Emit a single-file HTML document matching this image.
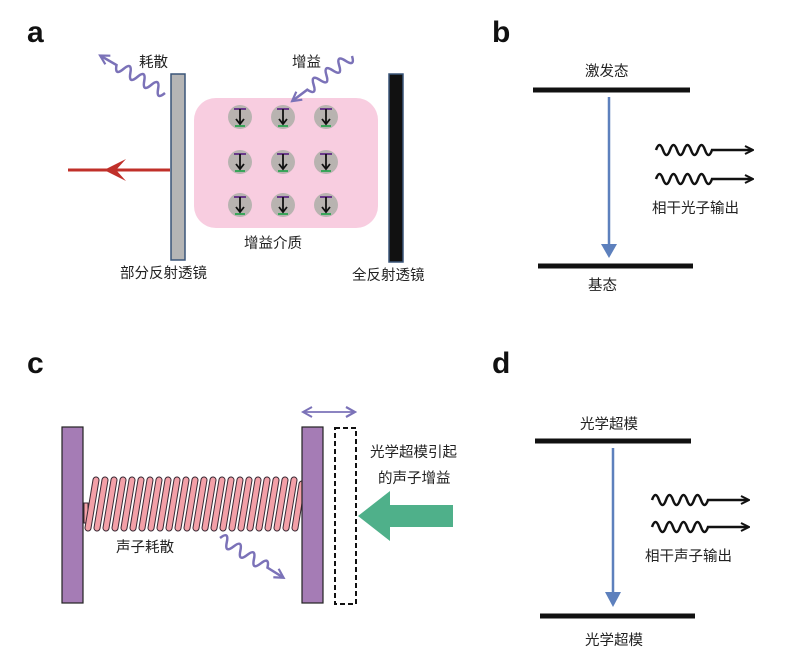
<!DOCTYPE html>
<html><head><meta charset="utf-8"><style>
body{margin:0;background:#fff}
svg{display:block}
text{font-family:"Liberation Sans","Noto Sans CJK SC",sans-serif;fill:#222}
.l{font-size:14.5px}
.h{font-size:30px;font-weight:bold;fill:#111}
</style></head><body>
<svg width="792" height="660" viewBox="0 0 792 660" xmlns="http://www.w3.org/2000/svg">
<defs>
<marker id="bk" markerWidth="10" markerHeight="10" refX="8" refY="5" orient="auto" markerUnits="userSpaceOnUse"><path d="M1,1 L9,5 L1,9" fill="none" stroke="#111" stroke-width="2"/></marker>
<marker id="pu" markerWidth="12" markerHeight="12" refX="9" refY="6" orient="auto" markerUnits="userSpaceOnUse"><path d="M1,1 L10,6 L1,11" fill="none" stroke="#7b72b8" stroke-width="2.2"/></marker>
<marker id="pu2" markerWidth="12" markerHeight="12" refX="3" refY="6" orient="auto" markerUnits="userSpaceOnUse"><path d="M11,1 L2,6 L11,11" fill="none" stroke="#7b72b8" stroke-width="2"/></marker>
<g id="circ">
<circle r="12" fill="#b8b3b0"/>
<line x1="-6" y1="-8" x2="6" y2="-8" stroke="#6a3a8a" stroke-width="2"/>
<line x1="-5" y1="9" x2="5" y2="9" stroke="#3aa55a" stroke-width="2"/>
<line x1="0" y1="-8" x2="0" y2="6" stroke="#111" stroke-width="1.8"/>
<path d="M-4,2 L0,7 L4,2" fill="none" stroke="#111" stroke-width="1.8"/>
</g>
<path id="wv" d="M0,0 q3.5,-10 7,0 t7,0 t7,0 t7,0 t7,0 t7,0 t7,0 t7,0 l40,0" fill="none"/>
<path id="pw" d="M0,0 q4,-11 8,0 t8,0 t8,0 t8,0 t8,0 t8,0 t8,0 l18,0" fill="none"/>
</defs>

<text class="h" x="27" y="42">a</text>
<text class="h" x="492" y="42">b</text>
<text class="h" x="27" y="373">c</text>
<text class="h" x="492" y="373">d</text>

<!-- panel a -->
<rect x="194" y="98" width="184" height="130" rx="22" fill="#f8cde0"/>
<rect x="171" y="74" width="14" height="186" fill="#b5b5b5" stroke="#3a5578" stroke-width="1.5"/>
<rect x="389" y="74" width="14" height="188" fill="#111" stroke="#3a5578" stroke-width="1.5"/>
<line x1="170" y1="170" x2="68" y2="170" stroke="#c0302a" stroke-width="3"/>
<path d="M126,159 L104,170 L126,181 L116,170 Z" fill="#c0302a"/>
<use href="#circ" x="240" y="117"/><use href="#circ" x="283" y="117"/><use href="#circ" x="326" y="117"/>
<use href="#circ" x="240" y="162"/><use href="#circ" x="283" y="162"/><use href="#circ" x="326" y="162"/>
<use href="#circ" x="240" y="205"/><use href="#circ" x="283" y="205"/><use href="#circ" x="326" y="205"/>
<use href="#pw" transform="translate(165,93) rotate(210)" stroke="#7b72b8" stroke-width="2.5" marker-end="url(#pu)"/>
<use href="#pw" transform="translate(352,56) rotate(143)" stroke="#7b72b8" stroke-width="2.5" marker-end="url(#pu)"/>
<text class="l" x="139" y="67">耗散</text>
<text class="l" x="292" y="67">增益</text>
<text class="l" x="244" y="248">增益介质</text>
<text class="l" x="120" y="278">部分反射透镜</text>
<text class="l" x="352" y="280">全反射透镜</text>

<!-- panel b -->
<line x1="533" y1="90" x2="690" y2="90" stroke="#111" stroke-width="5"/>
<line x1="538" y1="266" x2="693" y2="266" stroke="#111" stroke-width="5"/>
<line x1="609" y1="97" x2="609" y2="250" stroke="#5d80bd" stroke-width="2.5"/>
<path d="M601,244 L609,258 L617,244 Z" fill="#5d80bd"/>
<text class="l" x="585" y="76">激发态</text>
<text class="l" x="588" y="290">基态</text>
<use href="#wv" x="656" y="150" stroke="#111" stroke-width="2.5" marker-end="url(#bk)"/>
<use href="#wv" x="656" y="179" stroke="#111" stroke-width="2.5" marker-end="url(#bk)"/>
<text class="l" x="652" y="213">相干光子输出</text>

<!-- panel c -->
<rect x="84" y="503" width="4" height="20" fill="#f3a0a8" stroke="#3a2a35" stroke-width="1"/>
<path d="M88,528 L96,480 M97,528 L105,480 M106,528 L114,480 M115,528 L123,480 M124,528 L132,480 M133,528 L141,480 M142,528 L150,480 M151,528 L159,480 M160,528 L168,480 M169,528 L177,480 M178,528 L186,480 M187,528 L195,480 M196,528 L204,480 M205,528 L213,480 M214,528 L222,480 M223,528 L231,480 M232,528 L240,480 M241,528 L249,480 M250,528 L258,480 M259,528 L267,480 M268,528 L276,480 M277,528 L285,480 M286,528 L294,480 M295,528 L302,484" stroke="#3a2a35" stroke-width="7" stroke-linecap="round"/>
<path d="M88,528 L96,480 M97,528 L105,480 M106,528 L114,480 M115,528 L123,480 M124,528 L132,480 M133,528 L141,480 M142,528 L150,480 M151,528 L159,480 M160,528 L168,480 M169,528 L177,480 M178,528 L186,480 M187,528 L195,480 M196,528 L204,480 M205,528 L213,480 M214,528 L222,480 M223,528 L231,480 M232,528 L240,480 M241,528 L249,480 M250,528 L258,480 M259,528 L267,480 M268,528 L276,480 M277,528 L285,480 M286,528 L294,480 M295,528 L302,484" stroke="#f3a0a8" stroke-width="5" stroke-linecap="round"/>
<rect x="62" y="427" width="21" height="176" fill="#a57cb5" stroke="#222" stroke-width="1.2"/>
<rect x="302" y="427" width="21" height="176" fill="#a57cb5" stroke="#222" stroke-width="1.2"/>
<rect x="335" y="428" width="21" height="176" fill="none" stroke="#111" stroke-width="2" stroke-dasharray="5,3"/>
<line x1="304" y1="412" x2="354" y2="412" stroke="#7b72b8" stroke-width="1.8" marker-end="url(#pu)" marker-start="url(#pu2)"/>
<path d="M453,505 L390,505 L390,491 L358,516 L390,541 L390,527 L453,527 Z" fill="#4fb08a"/>
<text class="l" x="370" y="457">光学超模引起</text>
<text class="l" x="378" y="483">的声子增益</text>
<text class="l" x="116" y="552">声子耗散</text>
<use href="#pw" transform="translate(220,538) rotate(32)" stroke="#7b72b8" stroke-width="2.5" marker-end="url(#pu)"/>

<!-- panel d -->
<line x1="535" y1="441" x2="691" y2="441" stroke="#111" stroke-width="5"/>
<line x1="540" y1="616" x2="695" y2="616" stroke="#111" stroke-width="5"/>
<line x1="613" y1="448" x2="613" y2="597" stroke="#5d80bd" stroke-width="2.5"/>
<path d="M605,592 L613,607 L621,592 Z" fill="#5d80bd"/>
<text class="l" x="580" y="429">光学超模</text>
<text class="l" x="585" y="645">光学超模</text>
<use href="#wv" x="652" y="500" stroke="#111" stroke-width="2.5" marker-end="url(#bk)"/>
<use href="#wv" x="652" y="527" stroke="#111" stroke-width="2.5" marker-end="url(#bk)"/>
<text class="l" x="645" y="561">相干声子输出</text>
</svg>
</body></html>
